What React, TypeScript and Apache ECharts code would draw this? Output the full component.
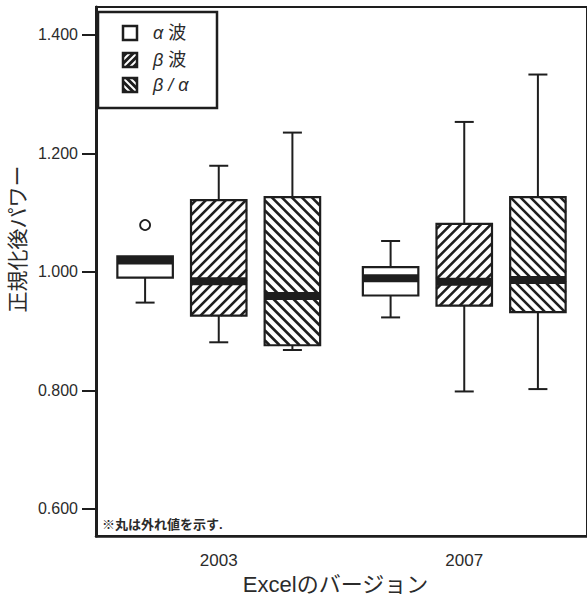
import React, { useEffect, useRef } from "react";
import * as echarts from "echarts";

const categories = ["2003", "2007"];
const yTicks = [0.6, 0.8, 1.0, 1.2, 1.4];
const seriesNames = ["α波", "β波", "β/α"];
// [categoryIndex, low whisker, q1, median, q3, high whisker]
const alphaBox = [
  [0, 0.948, 0.99, 1.019, 1.026, 1.026],
  [1, 0.923, 0.96, 0.989, 1.008, 1.052],
];
const betaBox = [
  [0, 0.881, 0.926, 0.984, 1.121, 1.179],
  [1, 0.798, 0.943, 0.983, 1.081, 1.253],
];
const ratioBox = [
  [0, 0.868, 0.876, 0.959, 1.126, 1.235],
  [1, 0.802, 0.932, 0.986, 1.126, 1.333],
];
// [categoryIndex, value]
const alphaOutliers = [[0, 1.079]];

const FONT = '"Liberation Sans", "Noto Sans CJK JP", sans-serif';
const INK = "#1e1e1e";
const TEXT = "#2b2b2b";

type Dir = "none" | "/" | "\\";

function hatchSegments(x0: number, y0: number, x1: number, y1: number, dir: Dir, period: number) {
  const segs: number[][] = [];
  if (dir === "/") {
    for (let c = x0 + y0 + period / 2; c < x1 + y1; c += period) {
      const lo = Math.max(x0, c - y1);
      const hi = Math.min(x1, c - y0);
      if (hi - lo > 0.3) segs.push([lo, c - lo, hi, c - hi]);
    }
  } else if (dir === "\\") {
    for (let c = x0 - y1 + period / 2; c < x1 - y0; c += period) {
      const lo = Math.max(x0, c + y0);
      const hi = Math.min(x1, c + y1);
      if (hi - lo > 0.3) segs.push([lo, lo - c, hi, hi - c]);
    }
  }
  return segs;
}

const BOX_W = 0.226;
const CAP_W = 19;

function boxRenderer(offsetFrac: number, dir: Dir) {
  return (params: any, api: any) => {
    const cat = api.value(0);
    const band = api.size([1, 0])[0];
    const cx = api.coord([cat, api.value(3)])[0] + offsetFrac * band;
    const yLow = api.coord([cat, api.value(1)])[1];
    const yQ1 = api.coord([cat, api.value(2)])[1];
    const yMed = api.coord([cat, api.value(3)])[1];
    const yQ3 = api.coord([cat, api.value(4)])[1];
    const yHigh = api.coord([cat, api.value(5)])[1];
    const w = band * BOX_W;
    const x0 = cx - w / 2;
    const x1 = cx + w / 2;
    const lineStyle = { stroke: INK, lineWidth: 2 };
    const children: any[] = [];
    if (Math.abs(yHigh - yQ3) > 1) {
      children.push({ type: "line", shape: { x1: cx, y1: yQ3, x2: cx, y2: yHigh }, style: lineStyle });
      children.push({ type: "line", shape: { x1: cx - CAP_W / 2, y1: yHigh, x2: cx + CAP_W / 2, y2: yHigh }, style: lineStyle });
    }
    if (Math.abs(yLow - yQ1) > 1) {
      children.push({ type: "line", shape: { x1: cx, y1: yQ1, x2: cx, y2: yLow }, style: lineStyle });
      children.push({ type: "line", shape: { x1: cx - CAP_W / 2, y1: yLow, x2: cx + CAP_W / 2, y2: yLow }, style: lineStyle });
    }
    children.push({ type: "rect", shape: { x: x0, y: yQ3, width: w, height: yQ1 - yQ3 }, style: { fill: "#fff", stroke: "none" } });
    hatchSegments(x0, yQ3, x1, yQ1, dir, 10).forEach((s) => {
      children.push({ type: "line", shape: { x1: s[0], y1: s[1], x2: s[2], y2: s[3] }, style: { stroke: INK, lineWidth: 2.6 } });
    });
    children.push({ type: "rect", shape: { x: x0, y: yMed - 4, width: w, height: 8 }, style: { fill: INK } });
    children.push({ type: "rect", shape: { x: x0, y: yQ3, width: w, height: yQ1 - yQ3 }, style: { fill: "none", stroke: INK, lineWidth: 2.2 } });
    return { type: "group", children };
  };
}

function outlierRenderer(offsetFrac: number) {
  return (params: any, api: any) => {
    const cat = api.value(0);
    const band = api.size([1, 0])[0];
    const p = api.coord([cat, api.value(1)]);
    return {
      type: "circle",
      shape: { cx: p[0] + offsetFrac * band, cy: p[1], r: 5 },
      style: { fill: "#fff", stroke: INK, lineWidth: 1.8 },
    };
  };
}

function legendIcon(x: number, y: number, dir: Dir) {
  const s = 14;
  const children: any[] = [];
  hatchSegments(x, y, x + s, y + s, dir, 7).forEach((g) => {
    children.push({ type: "line", shape: { x1: g[0], y1: g[1], x2: g[2], y2: g[3] }, style: { stroke: INK, lineWidth: 3 } });
  });
  children.push({ type: "rect", shape: { x, y, width: s, height: s }, style: { fill: "none", stroke: INK, lineWidth: 2.5 } });
  return children;
}

export default function App() {
  const ref = useRef<HTMLDivElement>(null);
  useEffect(() => {
    if (!ref.current) return;
    const chart = echarts.init(ref.current, null, { renderer: "svg" });
    const legendRows = [
      { y: 33, dir: "none" as Dir, text: "{i|α} 波" },
      { y: 60, dir: "/" as Dir, text: "{i|β} 波" },
      { y: 85, dir: "\\" as Dir, text: "{i|β / α}" },
    ];
    const graphic: any[] = [
      { type: "rect", shape: { x: 98, y: 12, width: 119, height: 96 }, style: { fill: "#fff", stroke: INK, lineWidth: 2.5 }, z: 10 },
    ];
    legendRows.forEach((r) => {
      legendIcon(123, r.y - 7, r.dir).forEach((c) => graphic.push({ ...c, z: 11 }));
      graphic.push({
        type: "text",
        x: 153,
        y: r.y,
        z: 11,
        style: {
          text: r.text,
          fontSize: 18,
          fontFamily: FONT,
          fill: TEXT,
          verticalAlign: "middle",
          rich: { i: { fontStyle: "italic", fontSize: 18, fontFamily: FONT, fill: TEXT } },
        },
      });
    });
    graphic.push({
      type: "text",
      x: 17,
      y: 239,
      rotation: Math.PI / 2,
      style: { text: "正規化後パワー", fontSize: 21, fontFamily: FONT, fill: TEXT, align: "center", verticalAlign: "middle" },
    });
    graphic.push({
      type: "text",
      x: 102,
      y: 524,
      style: { text: "※丸は外れ値を示す.", fontSize: 13, fontWeight: "bold", fontFamily: FONT, fill: TEXT, verticalAlign: "middle" },
    });

    chart.setOption({
      animation: false,
      backgroundColor: "#fff",
      grid: { left: 96, top: 7, right: -5, bottom: 65, show: true, borderColor: INK, borderWidth: 2, backgroundColor: "transparent" },
      xAxis: {
        type: "category",
        data: categories,
        boundaryGap: true,
        axisLine: { lineStyle: { color: INK, width: 2.5 } },
        axisTick: { alignWithLabel: true, length: 11, lineStyle: { color: INK, width: 2 } },
        axisLabel: { margin: 16, fontSize: 17, fontFamily: FONT, color: TEXT },
        name: "Excelのバージョン",
        nameLocation: "middle",
        nameGap: 37,
        nameTextStyle: { fontSize: 22, fontFamily: FONT, color: TEXT, padding: [0, 12, 0, 0] },
        splitLine: { show: false },
      },
      yAxis: {
        type: "value",
        min: 0.554,
        max: 1.447,
        axisLine: { show: true, lineStyle: { color: INK, width: 3 } },
        axisTick: { show: true, customValues: yTicks, length: 14, lineStyle: { color: INK, width: 2 } },
        axisLabel: {
          customValues: yTicks,
          margin: 18,
          fontSize: 16,
          fontFamily: FONT,
          color: TEXT,
          formatter: (v: number) => v.toFixed(3),
        },
        splitLine: { show: false },
      },
      graphic,
      series: [
        { name: seriesNames[0], type: "custom", renderItem: boxRenderer(-0.3, "none"), encode: { x: 0, y: [1, 2, 3, 4, 5] }, data: alphaBox },
        { name: seriesNames[1], type: "custom", renderItem: boxRenderer(0, "/"), encode: { x: 0, y: [1, 2, 3, 4, 5] }, data: betaBox },
        { name: seriesNames[2], type: "custom", renderItem: boxRenderer(0.3, "\\"), encode: { x: 0, y: [1, 2, 3, 4, 5] }, data: ratioBox },
        { name: "外れ値", type: "custom", renderItem: outlierRenderer(-0.3), encode: { x: 0, y: 1 }, data: alphaOutliers },
      ],
    });
    return () => chart.dispose();
  }, []);
  return <div ref={ref} style={{ position: "absolute", left: 0, top: 0, width: 587, height: 601 }} />;
}
